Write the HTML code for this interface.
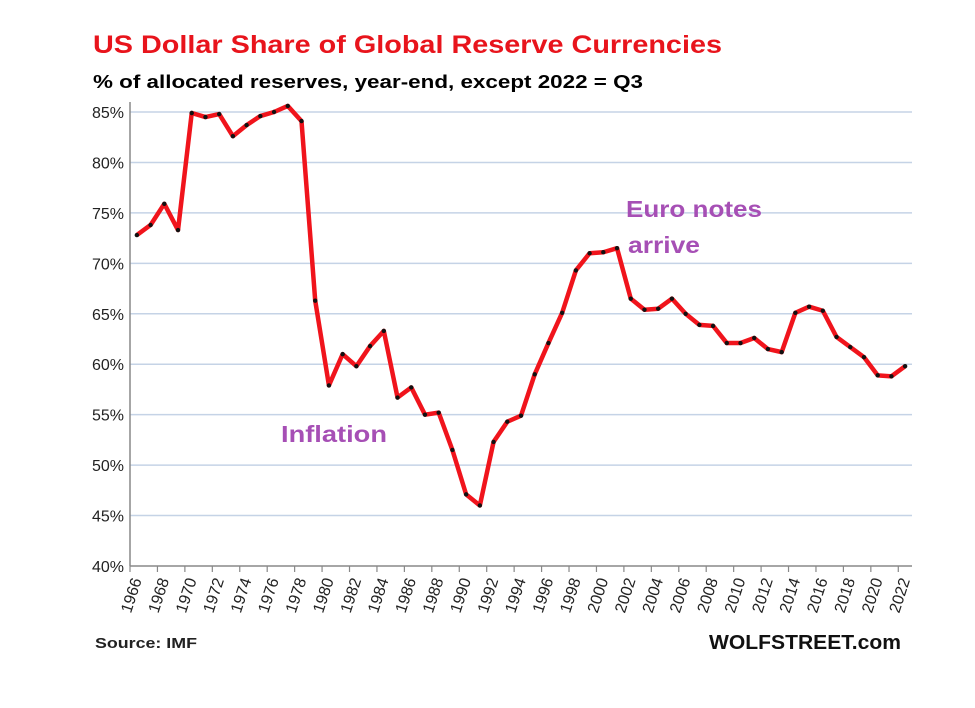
<!DOCTYPE html>
<html><head><meta charset="utf-8"><style>
body{margin:0;background:#fff;width:975px;height:703px;overflow:hidden;font-family:"Liberation Sans",sans-serif}
</style></head><body>
<svg id="c" width="975" height="703" xmlns="http://www.w3.org/2000/svg">
<text x="93" y="53" font-size="25" font-weight="bold" fill="#e8141c" textLength="629" lengthAdjust="spacingAndGlyphs">US Dollar Share of Global Reserve Currencies</text>
<text x="93" y="88" font-size="18" font-weight="bold" fill="#000" textLength="550" lengthAdjust="spacingAndGlyphs">% of allocated reserves, year-end, except 2022 = Q3</text>
<g id="grid"></g><g id="xax"></g><g id="series"></g>
<text x="281" y="442" font-size="23" font-weight="bold" fill="#a64fb5" textLength="106" lengthAdjust="spacingAndGlyphs">Inflation</text>
<text x="626" y="217" font-size="23" font-weight="bold" fill="#a64fb5" textLength="136" lengthAdjust="spacingAndGlyphs">Euro notes</text>
<text x="628" y="253" font-size="23" font-weight="bold" fill="#a64fb5" textLength="72" lengthAdjust="spacingAndGlyphs">arrive</text>
<text x="95" y="648" font-size="15" font-weight="bold" fill="#222" textLength="102" lengthAdjust="spacingAndGlyphs">Source: IMF</text>
<text x="709" y="649" font-size="20" font-weight="bold" fill="#111" textLength="192" lengthAdjust="spacingAndGlyphs">WOLFSTREET.com</text>
</svg>
<script>
const years=[];for(let y=1966;y<=2022;y++)years.push(y);
const values=[72.8,73.8,75.9,73.3,84.9,84.5,84.8,82.6,83.7,84.6,85.0,85.6,84.1,66.3,57.9,61.0,59.8,61.8,63.3,56.7,57.7,55.0,55.2,51.5,47.1,46.0,52.3,54.3,54.9,59.0,62.1,65.1,69.3,71.0,71.1,71.5,66.5,65.4,65.5,66.5,65.0,63.9,63.8,62.1,62.1,62.6,61.5,61.2,65.1,65.7,65.3,62.7,61.7,60.7,58.9,58.8,59.8];
const yTicks=[40,45,50,55,60,65,70,75,80,85];
const NS="http://www.w3.org/2000/svg";
const X0=130,X1=912,Y0=566,Y1=112;
const bw=(X1-X0)/years.length;
const xs=i=>X0+bw*(i+0.5);
const ys=v=>Y0-(v-40)/45*(Y0-Y1);
function mk(t,a,p){const e=document.createElementNS(NS,t);for(const k in a)e.setAttribute(k,a[k]);p.appendChild(e);return e;}
const grid=document.getElementById('grid'),xax=document.getElementById('xax'),ser=document.getElementById('series');
yTicks.forEach(v=>{
 if(v>40){const l=mk('line',{x1:X0,x2:X1,y1:ys(v),y2:ys(v),stroke:'#c5d3e6','stroke-width':1.5},grid);
 
 }
 const t=mk('text',{x:X0-6,y:ys(v)+6,'font-size':16,'text-anchor':'end',fill:'#222'},grid);t.textContent=v+'%';
 
 
});
let a=mk('line',{x1:X0,x2:X0,y1:Y1-10,y2:Y0,stroke:'#888','stroke-width':1.5},xax);


a=mk('line',{x1:X0,x2:X1,y1:Y0,y2:Y0,stroke:'#888','stroke-width':1.5},xax);


years.forEach((y,i)=>{
 if(i%2===0){
  const tx=X0+bw*i;mk('line',{x1:tx,x2:tx,y1:Y0,y2:Y0+6,stroke:'#888','stroke-width':1.2},xax);
  const cx=xs(i)+5,cy=Y0+14;
  const t=mk('text',{x:cx,y:cy,'font-size':16,fill:'#222','text-anchor':'end',transform:`rotate(-72 ${cx} ${cy})`},xax);
  t.textContent=y;
  
  
 }
});
const pl=mk('polyline',{points:values.map((v,i)=>xs(i)+','+ys(v)).join(' '),fill:'none',stroke:'#f0141c','stroke-width':4.5,'stroke-linejoin':'round'},ser);


values.forEach((v,i)=>{const c=mk('circle',{cx:xs(i),cy:ys(v),r:2.2,fill:'#111'},ser);
 
 });
</script>
</body></html>
